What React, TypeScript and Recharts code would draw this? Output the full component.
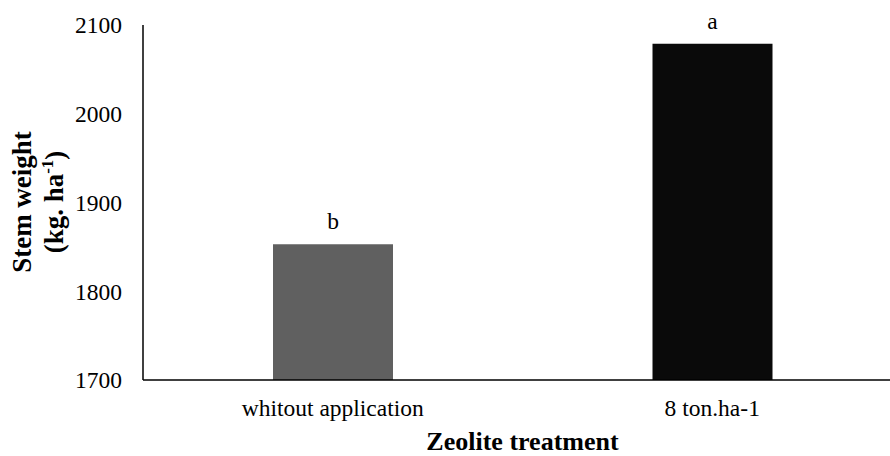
import { BarChart, Bar, XAxis, YAxis, Cell, LabelList } from "recharts";

const treatments = ["whitout application", "8 ton.ha-1"];
const stemWeight = [1853, 2079];
const letters = ["b", "a"];
const barColors = ["#606060", "#0a0a0a"];
const yTicks = [1700, 1800, 1900, 2000, 2100];

const data = treatments.map((t, i) => ({
  treatment: t,
  weight: stemWeight[i],
  letter: letters[i],
}));

const font = "'Liberation Serif', 'Times New Roman', serif";

// two-line rotated y label with a superscript
const YLabel = () => (
  <g fontFamily={font} fontWeight="bold" fontSize={27} fill="#000">
    <text x={22} y={202} transform="rotate(-90 22 202)" textAnchor="middle" dy="0.35em">
      Stem weight
    </text>
    <text x={54} y={202} transform="rotate(-90 54 202)" textAnchor="middle" dy="0.35em">
      (kg. ha
      <tspan fontSize={17} dy="-0.6em">-1</tspan>
      <tspan dy="0.4em">)</tspan>
    </text>
  </g>
);

// centred under the plot area
const XLabel = (props: any) => {
  const { viewBox } = props;
  return (
    <text
      x={viewBox.x + viewBox.width / 2}
      y={450}
      textAnchor="middle"
      fontFamily={font}
      fontWeight="bold"
      fontSize={26}
      fill="#000"
    >
      Zeolite treatment
    </text>
  );
};

const LetterLabel = (props: any) => {
  const { x, y, width, value } = props;
  return (
    <text x={x + width / 2} y={y - 15} textAnchor="middle" fontFamily={font} fontSize={23.5} fill="#000">
      {value}
    </text>
  );
};

export default function App() {
  return (
    <div style={{ position: "absolute", left: 0, top: 0, width: 890, height: 456, overflow: "hidden", background: "#fff", fontFamily: font }}>
      <BarChart width={910} height={456} data={data} margin={{ top: 25, right: 8, left: 0, bottom: 0 }}>
        <XAxis
          dataKey="treatment"
          height={76}
          tickLine={false}
          tickMargin={13}
          axisLine={{ stroke: "#000", strokeWidth: 1.5 }}
          tick={{ fill: "#000", fontSize: 23.5, fontFamily: font }}
          label={<XLabel />}
        />
        <YAxis
          width={143}
          domain={[1700, 2100]}
          ticks={yTicks}
          tickLine={false}
          tickMargin={15}
          axisLine={{ stroke: "#000", strokeWidth: 1.5 }}
          tick={{ fill: "#000", fontSize: 23.5, fontFamily: font }}
          label={<YLabel />}
        />
        <Bar dataKey="weight" barSize={120} isAnimationActive={false}>
          {data.map((d, i) => (
            <Cell key={d.treatment} fill={barColors[i]} />
          ))}
          <LabelList dataKey="letter" content={<LetterLabel />} />
        </Bar>
      </BarChart>
    </div>
  );
}
